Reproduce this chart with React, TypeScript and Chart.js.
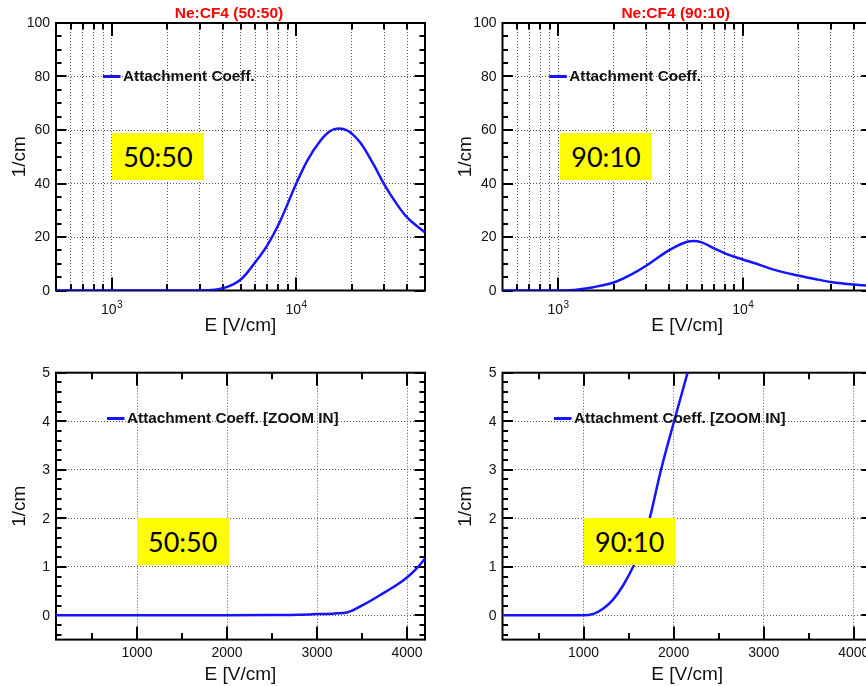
import React, { useEffect, useRef } from 'react';
import { Chart, registerables } from 'chart.js';

Chart.register(...registerables);

// ---------- data ----------
const E_5050 = [500, 1000, 2000, 2800, 3300, 3500, 3700, 3900, 4200, 4560, 5000, 5400, 5910, 6970, 8220, 10000, 11470, 13520, 15300, 16990, 18870, 22280, 26270, 30000, 35180, 40000, 50000];
const A_5050 = [0, 0, 0, 0.01, 0.06, 0.22, 0.42, 0.7, 1.25, 2.3, 4.0, 6.4, 9.9, 16.8, 26.1, 39.8, 48.4, 55.9, 59.6, 60.6, 59.9, 55.3, 47.2, 39.8, 32.3, 27.3, 21.7];

const E_9010 = [500, 1000, 1150, 1316, 1553, 2000, 2455, 3000, 3573, 4000, 5000, 5408, 6000, 7000, 8000, 9000, 10000, 12450, 14700, 20000, 25000, 30000, 40000, 50000];
const A_9010 = [0, 0, 0.1, 0.5, 1.25, 3.0, 5.75, 9.25, 12.9, 15.1, 18.2, 18.5, 18.0, 15.75, 13.9, 12.6, 11.6, 9.5, 7.8, 5.6, 4.2, 3.2, 2.2, 1.7];

const E_5050_ZOOM = [100, 1000, 2000, 2500, 2800, 3000, 3200, 3333, 3518, 3704, 3889, 4000, 4100, 4200];
const A_5050_ZOOM = [0, 0, 0, 0.005, 0.012, 0.025, 0.04, 0.06, 0.22, 0.42, 0.63, 0.78, 0.95, 1.17];

const E_9010_ZOOM = [100, 1000, 1110, 1220, 1330, 1440, 1550, 1660, 1735, 1860, 2005, 2155, 2300];
const A_9010_ZOOM = [0, 0, 0.03, 0.14, 0.33, 0.62, 1.0, 1.5, 2.0, 3.0, 4.0, 5.0, 6.0];

// ---------- ticks ----------
const LOG_X_GRID = [600, 700, 800, 900, 1000, 2000, 3000, 4000, 5000, 6000, 7000, 8000, 9000, 10000, 20000, 30000, 40000];
const LOG_X_MAJOR = [1000, 10000];
const LOG_X_MINOR = [600, 700, 800, 900, 2000, 3000, 4000, 5000, 6000, 7000, 8000, 9000, 20000, 30000, 40000];
const LOG_X_EXP = ['3', '4'];

const LIN_X_MAJOR = [1000, 2000, 3000, 4000];
const LIN_X_MINOR = [500, 1500, 2500, 3500];

const Y_TOP_GRID = [20, 40, 60, 80];
const Y_TOP_MAJOR = [0, 20, 40, 60, 80, 100];
const Y_TOP_MINOR = [5, 10, 15, 25, 30, 35, 45, 50, 55, 65, 70, 75, 85, 90, 95];

const Y_BOT_GRID = [0, 1, 2, 3, 4];
const Y_BOT_MAJOR = [0, 1, 2, 3, 4, 5];
const Y_BOT_MINOR = [-0.4, -0.2, 0.2, 0.4, 0.6, 0.8, 1.2, 1.4, 1.6, 1.8, 2.2, 2.4, 2.6, 2.8, 3.2, 3.4, 3.6, 3.8, 4.2, 4.4, 4.6, 4.8];

const TITLE_5050 = 'Ne:CF4 (50:50)';
const TITLE_9010 = 'Ne:CF4 (90:10)';
const LEGEND_TOP = 'Attachment Coeff.';
const LEGEND_BOT = 'Attachment Coeff. [ZOOM IN]';
const X_TITLE = 'E [V/cm]';
const Y_TITLE = '1/cm';

// ---------- style ----------
const BLUE = 'rgb(20,20,255)';
const GRID = '#555';
const INK = '#111';
const FONT = '"Liberation Sans", Arial, Helvetica, sans-serif';

type Spec = {
  left: number; top: number; w: number; h: number;
  pad: { left: number; right: number; top: number; bottom: number };
  logX: boolean; xMin: number; xMax: number; yMin: number; yMax: number;
  xs: number[]; ys: number[];
  xGrid: number[]; yGrid: number[];
  xMajor: number[]; xMinor: number[]; yMajor: number[]; yMinor: number[];
  title?: string; legend: string; legendX: number; legendY: number;
  box: { x: number; y: number; text: string };
};

const makePlugin = (s: Spec) => ({
  id: 'rootFrame',
  beforeDatasetsDraw(chart: any) {
    const { ctx, chartArea: a, scales } = chart;
    const xs = scales.x, ys = scales.y;
    ctx.save();
    ctx.strokeStyle = '#000';
    ctx.lineWidth = 2;
    ctx.beginPath();
    const xTick = (vals: number[], len: number) => {
      vals.forEach((v) => {
        const p = Math.round(xs.getPixelForValue(v));
        ctx.moveTo(p, a.bottom); ctx.lineTo(p, a.bottom - len);
        ctx.moveTo(p, a.top); ctx.lineTo(p, a.top + len);
      });
    };
    const yTick = (vals: number[], len: number) => {
      vals.forEach((v) => {
        const p = Math.round(ys.getPixelForValue(v));
        ctx.moveTo(a.left, p); ctx.lineTo(a.left + len, p);
        ctx.moveTo(a.right, p); ctx.lineTo(a.right - len, p);
      });
    };
    xTick(s.xMajor, 13);
    xTick(s.xMinor, 6.5);
    yTick(s.yMajor, 10.5);
    yTick(s.yMinor, 5.5);
    ctx.stroke();
    ctx.strokeRect(a.left, a.top, a.right - a.left, a.bottom - a.top);
    ctx.restore();
  },
  afterDraw(chart: any) {
    const { ctx, chartArea: a, scales } = chart;
    const xs = scales.x, ys = scales.y;
    ctx.save();
    ctx.fillStyle = INK;
    // y tick labels
    ctx.font = `14px ${FONT}`;
    ctx.textAlign = 'right';
    ctx.textBaseline = 'middle';
    s.yMajor.forEach((v) => {
      ctx.fillText(String(v), a.left - 6, ys.getPixelForValue(v) + 0.5);
    });
    // x tick labels
    if (s.logX) {
      s.xMajor.forEach((v, i) => {
        const px = xs.getPixelForValue(v);
        ctx.font = `14px ${FONT}`;
        const w1 = ctx.measureText('10').width;
        ctx.font = `10px ${FONT}`;
        const w2 = ctx.measureText(LOG_X_EXP[i]).width;
        const x0 = px - (w1 + w2) / 2;
        ctx.textAlign = 'left';
        ctx.textBaseline = 'alphabetic';
        ctx.font = `14px ${FONT}`;
        ctx.fillText('10', x0, a.bottom + 23);
        ctx.font = `10px ${FONT}`;
        ctx.fillText(LOG_X_EXP[i], x0 + w1 + 0.5, a.bottom + 17.5);
      });
    } else {
      ctx.font = `14px ${FONT}`;
      ctx.textAlign = 'center';
      ctx.textBaseline = 'alphabetic';
      s.xMajor.forEach((v) => {
        ctx.fillText(String(v), xs.getPixelForValue(v), a.bottom + 17.5);
      });
    }
    // axis titles
    ctx.font = `19px ${FONT}`;
    ctx.textAlign = 'center';
    ctx.textBaseline = 'alphabetic';
    ctx.fillText(X_TITLE, (a.left + a.right) / 2, a.bottom + 40);
    ctx.save();
    ctx.translate(a.left - 36.5, (a.top + a.bottom) / 2);
    ctx.rotate(-Math.PI / 2);
    ctx.textBaseline = 'middle';
    ctx.fillText(Y_TITLE, 0, 0);
    ctx.restore();
    // chart title
    if (s.title) {
      ctx.fillStyle = '#ff0000';
      ctx.font = `bold 15.5px ${FONT}`;
      ctx.textAlign = 'center';
      ctx.textBaseline = 'alphabetic';
      ctx.fillText(s.title, (a.left + a.right) / 2 - 11.5, 18.3);
    }
    // legend
    ctx.strokeStyle = BLUE;
    ctx.lineWidth = 3;
    ctx.beginPath();
    ctx.moveTo(s.legendX, s.legendY);
    ctx.lineTo(s.legendX + 17.5, s.legendY);
    ctx.stroke();
    ctx.fillStyle = INK;
    ctx.font = `bold 15.3px ${FONT}`;
    ctx.textAlign = 'left';
    ctx.textBaseline = 'middle';
    ctx.fillText(s.legend, s.legendX + 20, s.legendY + 0.5);
    ctx.restore();
  },
});

const PanelChart: React.FC<{ s: Spec }> = ({ s }) => {
  const ref = useRef<HTMLCanvasElement | null>(null);
  useEffect(() => {
    if (!ref.current) return;
    const chart = new Chart(ref.current, {
      type: 'line',
      data: {
        datasets: [
          {
            data: s.xs.map((v, i) => ({ x: v, y: s.ys[i] })),
            borderColor: BLUE,
            borderWidth: 2.5,
            pointRadius: 0,
            cubicInterpolationMode: 'monotone',
            fill: false,
          } as any,
        ],
      },
      options: {
        responsive: false,
        animation: false,
        devicePixelRatio: 1,
        events: [],
        layout: { padding: s.pad, autoPadding: false } as any,
        plugins: {
          legend: { display: false },
          tooltip: { enabled: false },
          title: { display: false },
        },
        scales: {
          x: {
            type: s.logX ? 'logarithmic' : 'linear',
            min: s.xMin,
            max: s.xMax,
            afterBuildTicks: (sc: any) => {
              sc.ticks = s.xGrid.map((v) => ({ value: v }));
            },
            ticks: { display: false },
            grid: { color: GRID, lineWidth: 1, drawTicks: false },
            border: { display: false, dash: [1, 2] },
          } as any,
          y: {
            type: 'linear',
            min: s.yMin,
            max: s.yMax,
            afterBuildTicks: (sc: any) => {
              sc.ticks = s.yGrid.map((v) => ({ value: v }));
            },
            ticks: { display: false },
            grid: { color: GRID, lineWidth: 1, drawTicks: false },
            border: { display: false, dash: [1, 2] },
          } as any,
        },
      },
      plugins: [makePlugin(s) as any],
    });
    return () => chart.destroy();
  }, [s]);

  return (
    <div style={{ position: 'absolute', left: s.left, top: s.top, width: s.w, height: s.h }}>
      <canvas ref={ref} width={s.w} height={s.h} style={{ display: 'block', width: s.w, height: s.h }} />
      <div
        style={{
          position: 'absolute',
          left: s.box.x,
          top: s.box.y,
          width: 92,
          height: 47,
          background: '#ffff00',
          display: 'flex',
          alignItems: 'center',
          justifyContent: 'center',
          fontFamily: 'Lato, "Open Sans", sans-serif',
          fontSize: 27,
          color: '#000',
          lineHeight: 1,
        }}
      >
        {s.box.text}
      </div>
    </div>
  );
};

const TOP_PAD_L = { left: 56, right: 5, top: 23, bottom: 49.5 };
const TOP_PAD_R = { left: 72.5, right: 4.2, top: 23, bottom: 49.5 };
const BOT_PAD_L = { left: 56, right: 5, top: 32.7, bottom: 46.4 };
const BOT_PAD_R = { left: 72.5, right: 4.2, top: 32.7, bottom: 46.4 };

const SPECS: Spec[] = [
  {
    left: 0, top: 0, w: 430, h: 340, pad: TOP_PAD_L,
    logX: true, xMin: 500, xMax: 50000, yMin: 0, yMax: 100,
    xs: E_5050, ys: A_5050,
    xGrid: LOG_X_GRID, yGrid: Y_TOP_GRID,
    xMajor: LOG_X_MAJOR, xMinor: LOG_X_MINOR, yMajor: Y_TOP_MAJOR, yMinor: Y_TOP_MINOR,
    title: TITLE_5050, legend: LEGEND_TOP, legendX: 103, legendY: 76.5,
    box: { x: 112, y: 133, text: '50:50' },
  },
  {
    left: 430, top: 0, w: 446, h: 340, pad: TOP_PAD_R,
    logX: true, xMin: 500, xMax: 50000, yMin: 0, yMax: 100,
    xs: E_9010, ys: A_9010,
    xGrid: LOG_X_GRID, yGrid: Y_TOP_GRID,
    xMajor: LOG_X_MAJOR, xMinor: LOG_X_MINOR, yMajor: Y_TOP_MAJOR, yMinor: Y_TOP_MINOR,
    title: TITLE_9010, legend: LEGEND_TOP, legendX: 119.3, legendY: 76.5,
    box: { x: 130, y: 133, text: '90:10' },
  },
  {
    left: 0, top: 340, w: 430, h: 346, pad: BOT_PAD_L,
    logX: false, xMin: 100, xMax: 4200, yMin: -0.5, yMax: 5,
    xs: E_5050_ZOOM, ys: A_5050_ZOOM,
    xGrid: LIN_X_MAJOR, yGrid: Y_BOT_GRID,
    xMajor: LIN_X_MAJOR, xMinor: LIN_X_MINOR, yMajor: Y_BOT_MAJOR, yMinor: Y_BOT_MINOR,
    legend: LEGEND_BOT, legendX: 107, legendY: 78.5,
    box: { x: 136.7, y: 178.3, text: '50:50' },
  },
  {
    left: 430, top: 340, w: 446, h: 346, pad: BOT_PAD_R,
    logX: false, xMin: 100, xMax: 4200, yMin: -0.5, yMax: 5,
    xs: E_9010_ZOOM, ys: A_9010_ZOOM,
    xGrid: LIN_X_MAJOR, yGrid: Y_BOT_GRID,
    xMajor: LIN_X_MAJOR, xMinor: LIN_X_MINOR, yMajor: Y_BOT_MAJOR, yMinor: Y_BOT_MINOR,
    legend: LEGEND_BOT, legendX: 124, legendY: 78.5,
    box: { x: 153.7, y: 178, text: '90:10' },
  },
];

export default function App() {
  return (
    <div
      style={{
        position: 'absolute',
        left: 0,
        top: 0,
        width: 866,
        height: 686,
        overflow: 'hidden',
        background: '#fff',
      }}
    >
      {SPECS.map((s, i) => (
        <PanelChart key={i} s={s} />
      ))}
    </div>
  );
}
